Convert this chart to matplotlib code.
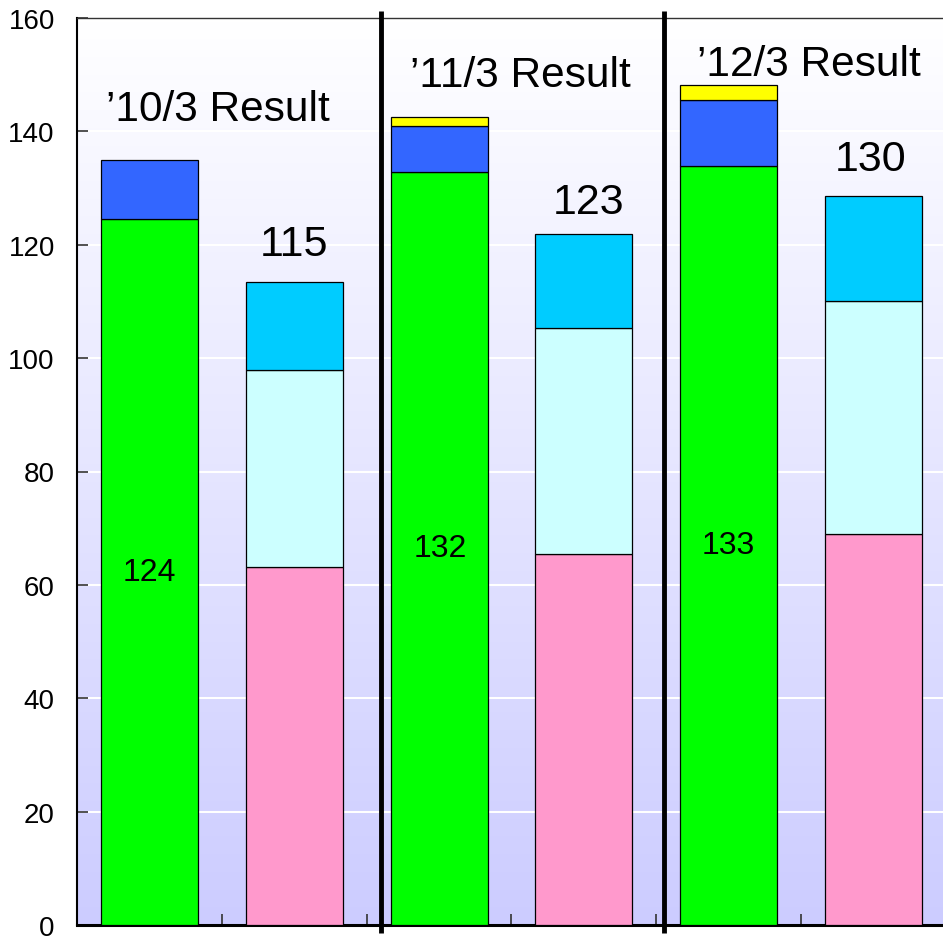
import matplotlib
matplotlib.use("Agg")
import matplotlib.pyplot as plt
import numpy as np
from matplotlib.colors import LinearSegmentedColormap

plt.rcParams["font.family"] = ["Liberation Sans", "DejaVu Sans"]

# six bar slots: result / forecast pairs for three years
slots = [0, 1, 2, 3, 4, 5]

# result bars (left of each pair)
result_x = [0, 2, 4]
green = [124.5, 132.8, 133.9]
blue = [10.4, 8.1, 11.6]
yellow = [0.0, 1.6, 2.7]

# right bar of each pair
other_x = [1, 3, 5]
pink = [63.2, 65.4, 69.0]
light_cyan = [34.7, 39.9, 41.1]
cyan = [15.5, 16.6, 18.5]

titles = ["\u201910/3 Result", "\u201911/3 Result", "\u201912/3 Result"]
totals = ["115", "123", "130"]
inner = ["124", "132", "133"]

y_ticks = [0, 20, 40, 60, 80, 100, 120, 140, 160]
separators = [1.60, 3.55]


def main():
	fig = plt.figure(figsize=(9.43, 9.37), dpi=100)
	ax = fig.add_axes([77 / 943, 11 / 937, 869 / 943, 907 / 937])

	# gradient background, white on top to lavender at the bottom
	cmap = LinearSegmentedColormap.from_list("bg", ["#ccccff", "#ffffff"])
	grad = np.linspace(0, 1, 256).reshape(-1, 1)
	ax.imshow(grad, cmap=cmap, aspect="auto", origin="lower",
		extent=[0, 1, 0, 1], transform=ax.transAxes, zorder=0)

	for y in y_ticks[1:-1]:
		ax.axhline(y, color="white", linewidth=1.5, zorder=1)

	w = 0.67
	kw = dict(width=w, edgecolor="black", linewidth=0.9, zorder=3)
	ax.bar(result_x, green, color="#00ff00", **kw)
	bottom = np.array(green)
	ax.bar(result_x, blue, bottom=bottom, color="#3366ff", **kw)
	bottom = bottom + np.array(blue)
	ax.bar(result_x[1:], yellow[1:], bottom=bottom[1:], color="#ffff00", **kw)

	ax.bar(other_x, pink, color="#ff99cc", **kw)
	bottom = np.array(pink)
	ax.bar(other_x, light_cyan, bottom=bottom, color="#ccffff", **kw)
	bottom = bottom + np.array(light_cyan)
	ax.bar(other_x, cyan, bottom=bottom, color="#00ccff", **kw)

	ax.vlines(separators, -1.4, 161.2, colors="black", linewidth=3.5,
		clip_on=False, zorder=5)

	title_pos = [(0.47, 143.9), (2.56, 150.0), (4.55, 151.9)]
	for (x, y), t in zip(title_pos, titles):
		ax.text(x, y, t, ha="center", va="center", fontsize=30.5, zorder=6)

	total_pos = [(1.0, 120.1), (3.03, 127.5), (4.98, 135.1)]
	for (x, y), t in zip(total_pos, totals):
		ax.text(x, y, t, ha="center", va="center", fontsize=31, zorder=6)

	inner_pos = [(0.0, 62.3), (2.01, 66.5), (4.0, 67.0)]
	for (x, y), t in zip(inner_pos, inner):
		ax.text(x, y, t, ha="center", va="center", fontsize=23, zorder=6)

	ax.set_xlim(-0.5, 5.5)
	ax.set_ylim(0, 160)
	ax.set_yticks(y_ticks)
	ax.set_xticks([s + 0.5 for s in slots[:-1]])
	ax.set_xticklabels([])
	ax.tick_params(axis="y", direction="in", length=8, width=1.2,
		color="#333333", labelsize=20, pad=16)
	ax.tick_params(axis="x", direction="in", length=8, width=1.2,
		color="#333333")

	ax.spines["left"].set_linewidth(1.5)
	ax.spines["bottom"].set_linewidth(2.2)
	ax.spines["top"].set_linewidth(1.0)
	ax.spines["top"].set_color("#333333")
	ax.spines["right"].set_visible(False)

	fig.savefig("out.png", dpi=100)


if __name__ == "__main__":
	main()
